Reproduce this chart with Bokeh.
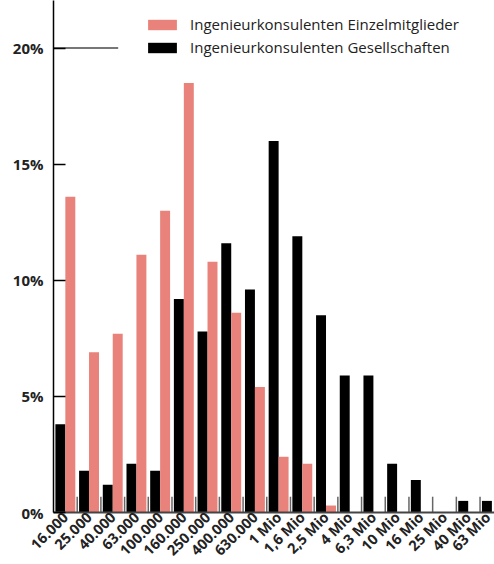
import math
from bokeh.plotting import figure
from bokeh.models import Range1d, FixedTicker, Legend, LegendItem, ColumnDataSource
from bokeh.embed import file_html
from bokeh.resources import INLINE

categories = ["16.000", "25.000", "40.000", "63.000", "100.000", "160.000",
              "250.000", "400.000", "630.000", "1 Mio", "1,6 Mio", "2,5 Mio",
              "4 Mio", "6,3 Mio", "10 Mio", "16 Mio", "25 Mio", "40 Mio", "63 Mio"]
einzel = [13.6, 6.9, 7.7, 11.1, 13.0, 18.5, 10.8, 8.6, 5.4, 2.4, 2.1, 0.3,
          0, 0, 0, 0, 0, 0, 0]
gesell = [3.8, 1.8, 1.2, 2.1, 1.8, 9.2, 7.8, 11.6, 9.6, 16.0, 11.9, 8.5,
          5.9, 5.9, 2.1, 1.4, 0, 0.5, 0.5]
series_names = ["Ingenieurkonsulenten Einzelmitglieder",
                "Ingenieurkonsulenten Gesellschaften"]
y_ticks = [0, 5, 10, 15, 20]
y_tick_labels = ["0%", "5%", "10%", "15%", "20%"]

PINK = "#E8827A"
FONT = "Open Sans"

idx = list(range(len(categories)))
src = ColumnDataSource(dict(
    xb=[i - 0.21 for i in idx],
    xp=[i + 0.21 for i in idx],
    einzel=einzel,
    gesell=gesell,
))

p = figure(frame_width=441, frame_height=512, output_backend="svg", toolbar_location=None,
           x_range=Range1d(-0.5, 18.11), y_range=Range1d(0, 22.05),
           min_border_left=53, min_border_right=0, min_border_top=0,
           min_border_bottom=10)
p.outline_line_color = None
p.xgrid.visible = False
p.ygrid.visible = False

# category separators at the baseline
sep_x = [i + 0.5 for i in idx]
p.segment(x0=sep_x, y0=[0] * len(sep_x), x1=sep_x, y1=[0.68] * len(sep_x),
          line_color="#666666", line_width=1.5)

# top reference line at 20%
p.segment(x0=[-0.5], y0=[20], x1=[2.23], y1=[20], line_color="#777777", line_width=2)

r_black = p.vbar(x="xb", top="gesell", width=0.42, source=src,
                 fill_color="black", line_color=None)
r_pink = p.vbar(x="xp", top="einzel", width=0.42, source=src,
                fill_color=PINK, line_color=None)

# y axis
yax = p.yaxis[0]
yax.ticker = FixedTicker(ticks=y_ticks)
yax.major_label_overrides = {t: l for t, l in zip(y_ticks, y_tick_labels)}
yax.major_tick_in = 12
yax.major_tick_out = 0
yax.minor_tick_line_color = None
yax.axis_line_color = "black"
yax.axis_line_width = 1.5
yax.major_tick_line_color = "black"
yax.major_tick_line_width = 1.5
yax.major_label_standoff = 10
yax.major_label_text_font = FONT
yax.major_label_text_font_size = "15px"
yax.major_label_text_font_style = "bold"
yax.major_label_text_color = "#222222"

# x axis
xax = p.xaxis[0]
xax.ticker = FixedTicker(ticks=idx)
xax.major_label_overrides = {i: c for i, c in zip(idx, categories)}
xax.major_tick_in = 0
xax.major_tick_out = 0
xax.minor_tick_line_color = None
xax.axis_line_color = "#444444"
xax.axis_line_width = 2
xax.major_label_orientation = math.pi / 4
xax.major_label_standoff = 2
xax.major_label_text_font = FONT
xax.major_label_text_font_size = "14.5px"
xax.major_label_text_font_style = "bold"
xax.major_label_text_color = "#222222"

legend = Legend(items=[LegendItem(label=series_names[0], renderers=[r_pink]),
                       LegendItem(label=series_names[1], renderers=[r_black])],
                location=(91, 455))
legend.glyph_width = 36
legend.glyph_height = 13
legend.label_height = 13
legend.label_standoff = 10
legend.spacing = 3
legend.padding = 0
legend.margin = 0
legend.border_line_color = None
legend.background_fill_alpha = 0
legend.label_text_font = FONT
legend.label_text_font_size = "15px"
legend.label_text_color = "#222222"
p.add_layout(legend)

open("out.html", "w").write(file_html(p, INLINE))
